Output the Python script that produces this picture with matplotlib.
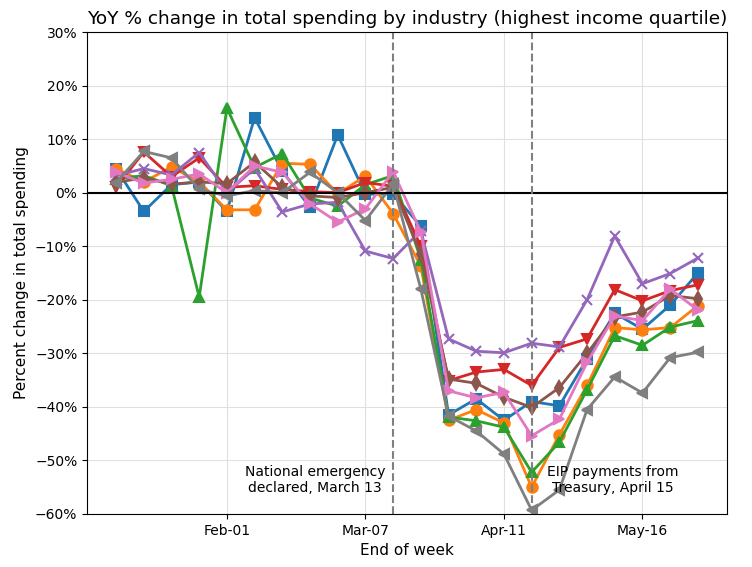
import numpy as np
import pandas as pd
import matplotlib
matplotlib.use("Agg")
from matplotlib import pyplot
import matplotlib.dates as mdates
from matplotlib.ticker import PercentFormatter

weeks = pd.date_range("2020-01-04", "2020-05-30", freq="7D")

# YoY % change per industry, one value per week
blue = [4.5, -3.5, 1.5, 2.0, -3.5, 14.0, 4.0, -2.7, 10.8, -0.3, -0.2, -6.3,
        -41.5, -38.5, -42.5, -39.0, -39.8, -31.0, -22.5, -25.5, -21.0, -15.0]
orange = [4.5, 2.0, 4.8, 2.0, -3.2, -3.2, 5.5, 5.3, -0.2, 3.1, -3.9, -13.7,
          -42.5, -40.5, -43.0, -55.0, -45.2, -36.0, -25.2, -25.6, -25.2, -21.1]
green = [2.6, 3.2, 1.3, -19.5, 15.8, 4.7, 7.3, -1.0, -2.5, 1.5, 3.2, -12.5,
         -41.9, -42.6, -43.8, -52.2, -46.6, -36.8, -26.7, -28.5, -25.1, -23.9]
red = [1.0, 7.6, 3.0, 6.5, 1.0, 1.3, 0.6, 0.2, 0.0, 1.9, 1.2, -10.0,
       -35.1, -33.5, -33.0, -36.0, -28.9, -27.3, -18.1, -20.2, -18.3, -17.2]
purple = [3.2, 4.5, 3.3, 7.5, 0.0, 4.5, -3.6, -2.1, -1.8, -10.9, -12.3, -7.1,
          -27.3, -29.6, -29.9, -28.1, -28.8, -20.0, -8.1, -17.0, -15.1, -12.2]
brown = [1.9, 2.8, 1.6, 2.0, 1.7, 5.7, 1.0, -0.6, -0.9, 0.0, 1.0, -11.5,
         -34.8, -35.6, -38.2, -40.1, -36.4, -30.0, -23.2, -22.3, -19.2, -19.8]
pink = [3.8, 1.8, 2.5, 3.5, 0.0, 5.0, 3.8, -2.1, -5.5, -3.0, 3.9, -7.3,
        -37.0, -38.3, -37.3, -45.4, -42.3, -31.7, -23.0, -23.9, -18.0, -21.9]
gray = [1.9, 7.7, 6.5, 0.6, -0.6, 0.4, 0.0, 3.8, 0.0, -5.2, 1.6, -18.0,
        -41.7, -44.5, -48.8, -59.3, -55.5, -40.5, -34.4, -37.4, -30.8, -29.8]

series = [blue, orange, green, red, purple, brown, pink, gray]
colors = ['tab:blue', 'tab:orange', 'tab:green', 'tab:red',
          'tab:purple', 'tab:brown', 'tab:pink', 'tab:gray']
markers = ['s', 'o', '^', 'v', 'x', 'd', '>', '<']

xticks = pd.to_datetime(["2020-02-01", "2020-03-07", "2020-04-11", "2020-05-16"])
emergency = pd.Timestamp("2020-03-14")
eip = pd.Timestamp("2020-04-18")

fig = pyplot.figure(figsize=(7.52, 5.67), dpi=100)
ax = fig.add_axes([0.1157, 0.0935, 0.851, 0.850])

for vals, c, m in zip(series, colors, markers):
    ax.plot(weeks, vals, color=c, marker=m, lw=2, ms=7.5, mew=1.5)

ax.axhline(0, color='k', lw=1.5)
ax.axvline(emergency, color='gray', ls='--', lw=1.5)
ax.axvline(eip, color='gray', ls='--', lw=1.5)

ax.text(pd.Timestamp("2020-03-12"), -53.7, "National emergency\ndeclared, March 13",
        ha='right', va='center', multialignment='center', fontsize=10)
ax.text(pd.Timestamp("2020-04-22"), -53.7, "EIP payments from\nTreasury, April 15",
        ha='left', va='center', multialignment='center', fontsize=10)

ax.set_ylim(-60, 30)
ax.set_yticks(np.arange(-60, 31, 10))
ax.yaxis.set_major_formatter(PercentFormatter(decimals=0))
ax.set_xticks(xticks)
ax.xaxis.set_major_formatter(mdates.DateFormatter('%b-%d'))
ax.grid(True, color='#e0e0e0', lw=0.8)
ax.set_axisbelow(True)

ax.set_title("YoY % change in total spending by industry (highest income quartile)",
             fontsize=13.3)
ax.set_xlabel("End of week", fontsize=11)
ax.set_ylabel("Percent change in total spending", fontsize=11)

pyplot.savefig("out.png", dpi=100)
